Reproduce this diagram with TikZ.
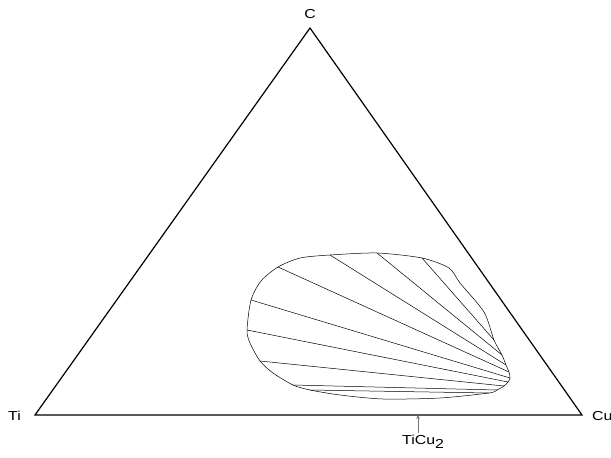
\documentclass[tikz,border=0pt]{standalone}
\usepackage{fontspec}
\setmainfont{Liberation Sans}[FakeStretch=1.22]
\usepackage{tikz}
\usetikzlibrary{positioning,arrows.meta}

\begin{document}
\begin{tikzpicture}[
  x=1pt, y=-1pt,
  node distance=3pt,
  corner/.style={inner sep=1pt, font=\fontsize{13}{15}\selectfont},
  side/.style={line width=1.2pt, line join=miter},
  region/.style={line width=0.5pt},
  tieline/.style={line width=0.5pt},
  marker/.style={-{Stealth[length=4pt,width=3.5pt]}, line width=0.4pt, draw=black!55}
]
\useasboundingbox (0,0) rectangle (611,458);

% triangle corners
\coordinate (ti) at (35,415);
\coordinate (cu) at (582,415);
\coordinate (c) at (310,28);
\coordinate (tc) at (418,415);

\draw[side] (ti) -- (cu) -- (c) -- cycle;

\node[corner, left=13pt of ti, yshift=-1pt] (tilabel) {Ti};
\node[corner, right=9pt of cu, yshift=-1pt] (culabel) {Cu};
\node[corner, above=8pt of c] (clabel) {C};
\node[corner, anchor=base west] (ticu) at (401,444) {TiCu\raisebox{-4pt}{2}};
\draw[marker] (ticu.north -| tc) -- (tc);

% boundary of the two-phase region
\coordinate (b1) at (300,258);
\coordinate (b2) at (330,255);
\coordinate (b3) at (377,253);
\coordinate (b4) at (422,258);
\coordinate (b5) at (449,268);
\coordinate (b6) at (460,283);
\coordinate (b7) at (484,312);
\coordinate (b8) at (494,340);
\coordinate (b9) at (502,355);
\coordinate (b10) at (506,365);
\coordinate (b11) at (509,372);
\coordinate (b12) at (510,378);
\coordinate (b13) at (508,382);
\coordinate (b14) at (504,386);
\coordinate (b15) at (497,390);
\coordinate (b16) at (489,393);
\coordinate (b17) at (440,398);
\coordinate (b18) at (383,399);
\coordinate (b19) at (340,395);
\coordinate (b20) at (310,390);
\coordinate (b21) at (293,385);
\coordinate (b22) at (273,373);
\coordinate (b23) at (260,361);
\coordinate (b24) at (250,343);
\coordinate (b25) at (247,330);
\coordinate (b26) at (251,300);
\coordinate (b27) at (261,281);
\coordinate (b28) at (278,267);

\draw[region] plot[smooth cycle, tension=0.45] coordinates {
  (b1) (b2) (b3) (b4) (b5) (b6) (b7) (b8) (b9) (b10) (b11) (b12) (b13) (b14)
  (b15) (b16) (b17) (b18) (b19) (b20) (b21) (b22) (b23) (b24) (b25) (b26) (b27) (b28)};

% tie-lines
\draw[tieline] (b4) -- (b8);
\draw[tieline] (b3) -- (b9);
\draw[tieline] (b2) -- (b10);
\draw[tieline] (b28) -- (b11);
\draw[tieline] (b26) -- (b12);
\draw[tieline] (b25) -- (b13);
\draw[tieline] (b23) -- (b14);
\draw[tieline] (b21) -- (b15);
\draw[tieline] (b20) -- (b16);
\end{tikzpicture}
\end{document}
